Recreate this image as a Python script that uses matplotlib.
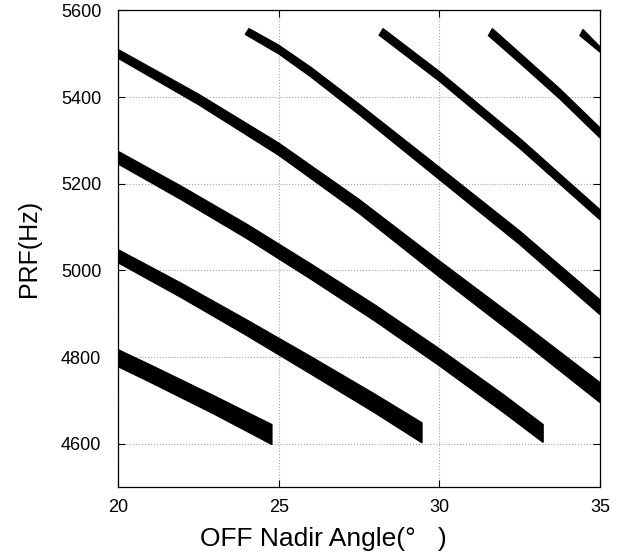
import numpy as np
import matplotlib.pyplot as plt

plt.rcParams['font.family'] = ['Liberation Sans', 'DejaVu Sans']

# --------------------------------------------
# datos: bandas de PRF
# (borde superior: x_hi / hi, borde inferior: x_lo / lo)
# --------------------------------------------
b1_x = [20, 21, 22, 23, 24, 24.79]
b1_lo = [4778, 4742, 4705, 4668, 4629, 4598]
b1_hi = [4817, 4782, 4746, 4710, 4673, 4644]

b2_x = [20, 22, 24, 26, 28, 29.46]
b2_lo = [5018, 4936, 4850, 4761, 4671, 4602]
b2_hi = [5048, 4969, 4886, 4801, 4714, 4648]

b3_x = [20, 22, 24, 26, 28, 30, 32, 33.23]
b3_lo = [5246, 5162, 5074, 4980, 4883, 4780, 4672, 4603]
b3_hi = [5275, 5193, 5107, 5015, 4920, 4819, 4713, 4644]

b4_x = [20, 22.5, 25, 27.5, 30, 32.5, 35]
b4_lo = [5490, 5383, 5266, 5132, 4985, 4842, 4695]
b4_hi = [5510, 5407, 5294, 5164, 5022, 4883, 4741]

# bandas que empiezan arriba (extremo redondeado)
b5_x_hi = [24.08, 25, 26, 27.5, 30, 32.5, 35]
b5_hi = [5558, 5520, 5469, 5384, 5238, 5091, 4932]
b5_x_lo = [23.96, 25, 26, 27.5, 30, 32.5, 35]
b5_lo = [5545, 5500, 5447, 5360, 5210, 5060, 4898]

b6_x_hi = [28.25, 30, 32.5, 35]
b6_hi = [5558, 5459, 5305, 5140]
b6_x_lo = [28.13, 30, 32.5, 35]
b6_lo = [5543, 5437, 5282, 5117]

b7_x_hi = [31.65, 32.5, 33.75, 35]
b7_hi = [5558, 5502, 5419, 5329]
b7_x_lo = [31.53, 32.5, 33.75, 35]
b7_lo = [5542, 5479, 5396, 5306]

b8_x_hi = [34.47, 35]
b8_hi = [5556, 5516]
b8_x_lo = [34.38, 35]
b8_lo = [5542, 5504]

bandas = [
    (b1_x, b1_hi, b1_x, b1_lo),
    (b2_x, b2_hi, b2_x, b2_lo),
    (b3_x, b3_hi, b3_x, b3_lo),
    (b4_x, b4_hi, b4_x, b4_lo),
    (b5_x_hi, b5_hi, b5_x_lo, b5_lo),
    (b6_x_hi, b6_hi, b6_x_lo, b6_lo),
    (b7_x_hi, b7_hi, b7_x_lo, b7_lo),
    (b8_x_hi, b8_hi, b8_x_lo, b8_lo),
]

x_ticks = [20, 25, 30, 35]
y_ticks = [4600, 4800, 5000, 5200, 5400, 5600]

# --------------------------------------------
# figura
# --------------------------------------------
fig = plt.figure(figsize=(6.19, 5.52), dpi=100)
ax = fig.add_axes([0.1906, 0.1178, 0.7787, 0.8632])

for xh, hi, xl, lo in bandas:
    px = np.concatenate([xh, xl[::-1]])
    py = np.concatenate([hi, lo[::-1]])
    ax.fill(px, py, color='black', edgecolor='black', linewidth=1.0,
            clip_on=True)

ax.set_xlim(20, 35)
ax.set_ylim(4500, 5600)
ax.set_xticks(x_ticks)
ax.set_yticks(y_ticks)

ax.grid(True, linestyle=':', color='#a0a0a0', linewidth=0.8)
ax.set_axisbelow(True)

ax.tick_params(direction='in', length=5, width=0.8, top=True, right=True,
               labelsize=13)
ax.tick_params(axis='x', pad=9)
ax.tick_params(axis='y', pad=12)

for s in ax.spines.values():
    s.set_linewidth(0.9)

ax.set_xlabel("OFF Nadir Angle(°   )", fontsize=19)
ax.xaxis.set_label_coords(0.427, -0.084)
ax.set_ylabel("PRF(Hz)", fontsize=18, labelpad=14)

fig.savefig("out.png", dpi=100)
